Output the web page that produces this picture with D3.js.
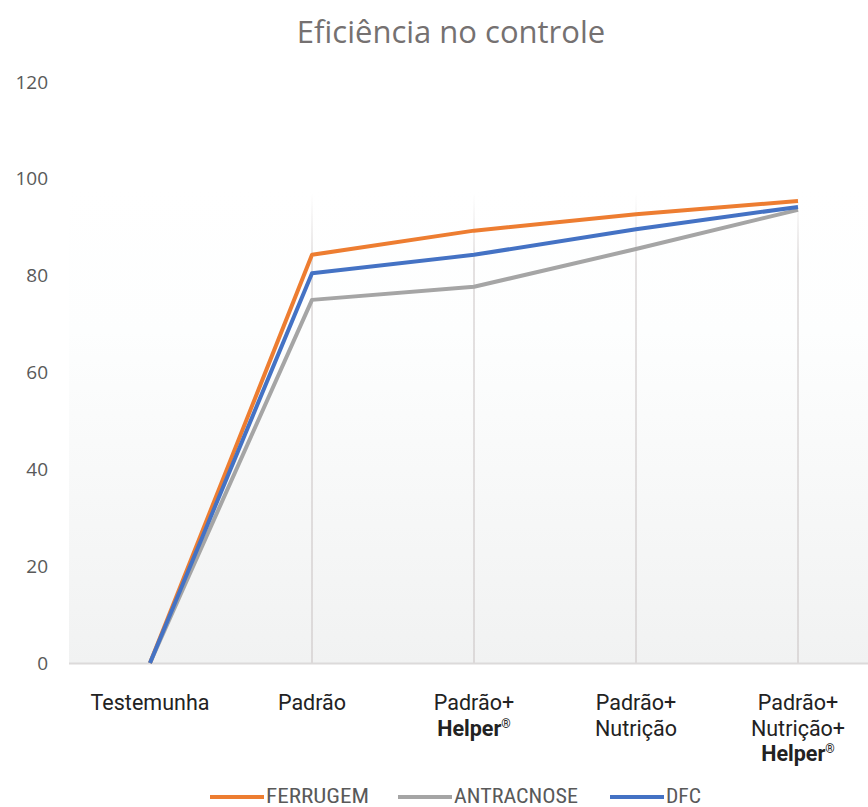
<!DOCTYPE html>
<html><head><meta charset="utf-8">
<script src="https://cdn.jsdelivr.net/npm/d3@7"></script>
<style>body{margin:0;background:#fff;}svg{display:block;}</style>
</head><body>
<script>
const categories = ["Testemunha","Padrão","Padrão+Helper","Padrão+Nutrição","Padrão+Nutrição+Helper"];
const ferrugem = [0, 84.3, 89.3, 92.7, 95.4];
const antracnose = [0, 75.0, 77.7, 85.5, 93.6];
const dfc = [0, 80.5, 84.3, 89.6, 94.2];
const yTicks = [0,20,40,60,80,100,120];
const seriesNames = ["FERRUGEM","ANTRACNOSE","DFC"];
const colors = ["#ED7D31","#A5A5A5","#4472C4"];
const title = "Eficiência no controle";

const W=868,H=807;
const svg=d3.select("body").append("svg").attr("width",W).attr("height",H);
const x=d3.scaleBand().domain(categories).range([69,879]).padding(0);
const y=d3.scaleLinear().domain([0,120]).range([663,82]);
const cx=c=>x(c)+x.bandwidth()/2;

const defs=svg.append("defs");
const g1=defs.append("linearGradient").attr("id","bg").attr("x1",0).attr("y1",0).attr("x2",0).attr("y2",1);
g1.append("stop").attr("offset","0").attr("stop-color","#ffffff");
g1.append("stop").attr("offset","0.3").attr("stop-color","#fdfefe");
g1.append("stop").attr("offset","1").attr("stop-color","#f1f2f2");
const g2=defs.append("linearGradient").attr("id","vg").attr("x1",0).attr("y1",0).attr("x2",0).attr("y2",1);
g2.append("stop").attr("offset","0").attr("stop-color","#e4e1e1").attr("stop-opacity",0);
g2.append("stop").attr("offset","0.15").attr("stop-color","#e4e1e1").attr("stop-opacity",1);
g2.append("stop").attr("offset","1").attr("stop-color","#dcd9d9").attr("stop-opacity",1);

svg.append("rect").attr("x",69).attr("y",y(98)).attr("width",W-69).attr("height",y(0)-y(98)).attr("fill","url(#bg)");

// vertical gridlines
svg.append("g").selectAll("rect").data(categories.slice(1)).join("rect")
  .attr("x",d=>cx(d)-1).attr("width",2)
  .attr("y",y(97)).attr("height",y(0)-y(97)).attr("fill","url(#vg)");

// x axis line
svg.append("line").attr("x1",69).attr("x2",W).attr("y1",y(0)+0.5).attr("y2",y(0)+0.5)
  .attr("stroke","#dcdada").attr("stroke-width",2);

// y tick labels
const yAxis=d3.axisLeft(y).tickValues(yTicks).tickSize(0).tickPadding(0);
const ya=svg.append("g").attr("transform","translate(48,0)").call(yAxis);
ya.select(".domain").remove();
ya.selectAll("text").attr("font-family","'Open Sans','Liberation Sans',sans-serif").attr("font-size",19).attr("fill","#595959");

// title
svg.append("text").attr("x",451).attr("y",43).attr("text-anchor","middle")
  .attr("font-family","'Open Sans','Liberation Sans',sans-serif").attr("font-size",31).attr("fill","#757171").text(title);

// lines
const line=d3.line().x((d,i)=>cx(categories[i])).y(d=>y(d));
[ferrugem,antracnose,dfc].forEach((s,i)=>{
  svg.append("path").datum(s).attr("d",line).attr("fill","none")
    .attr("stroke",colors[i]).attr("stroke-width",4).attr("stroke-linejoin","round").attr("stroke-linecap","butt");
});

// x labels
const xf="Roboto,'Liberation Sans',sans-serif";
const lab=svg.append("g").attr("font-family",xf).attr("font-size",21.5).attr("fill","#222").attr("text-anchor","middle");
function addLines(c, lines){
  const t=lab.append("text").attr("x",cx(c)).attr("y",710);
  lines.forEach((ln,i)=>{
    if(ln.startsWith("Helper")){
      const ts=t.append("tspan").attr("x",cx(c)).attr("dy",i===0?0:25.5);
      ts.append("tspan").attr("font-weight","bold").text("Helper");
      ts.append("tspan").attr("font-size",12).attr("dy",-8).text("®");
      t.append("tspan").attr("dy",8).text("");
    } else {
      t.append("tspan").attr("x",cx(c)).attr("dy",i===0?0:25.5).text(ln);
    }
  });
}
const splitLabels={
  "Testemunha":["Testemunha"],
  "Padrão":["Padrão"],
  "Padrão+Helper":["Padrão+","Helper"],
  "Padrão+Nutrição":["Padrão+","Nutrição"],
  "Padrão+Nutrição+Helper":["Padrão+","Nutrição+","Helper"]
};
categories.forEach(c=>addLines(c,splitLabels[c]));

// legend
const legX=[210,398,610];
const legW=[103,124,35];
const leg=svg.append("g");
seriesNames.forEach((n,i)=>{
  leg.append("line").attr("x1",legX[i]).attr("x2",legX[i]+54).attr("y1",797).attr("y2",797)
    .attr("stroke",colors[i]).attr("stroke-width",4);
  leg.append("text").attr("x",legX[i]+56).attr("y",803)
    .attr("font-family","'Liberation Sans Narrow','Roboto Condensed','Open Sans',sans-serif")
    .attr("font-size",20).attr("fill","#595959")
    .attr("textLength",legW[i]).attr("lengthAdjust","spacingAndGlyphs").text(n);
});
</script>
</body></html>
